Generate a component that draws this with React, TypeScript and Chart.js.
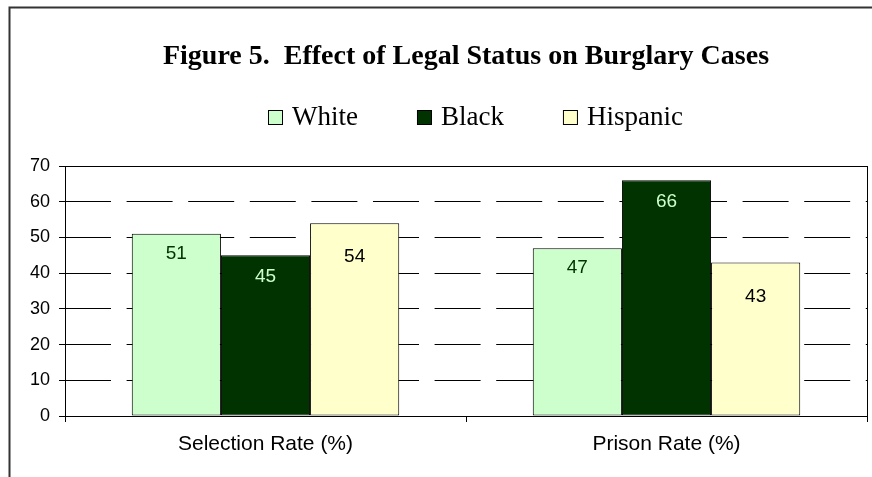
import React, { useEffect, useRef } from 'react';
import { Chart, registerables } from 'chart.js';

Chart.register(...registerables);

const categories = ['Selection Rate (%)', 'Prison Rate (%)'];
const seriesNames = ['White', 'Black', 'Hispanic'];
const whiteValues = [51, 47];
const blackValues = [45, 66];
const hispanicValues = [54, 43];
const seriesColors = ['#CCFFCC', '#003300', '#FFFFCC'];
const labelColors = ['#003300', '#CCFFCC', '#000000'];
const labelOffsets = [20, 21, 34];
const yMin = 0;
const yMax = 70;
const yStep = 10;
const titleText = 'Figure 5.  Effect of Legal Status on Burglary Cases';

const framePlugin = {
  id: 'frame',
  beforeDraw(chart: any) {
    const ctx = chart.ctx;
    ctx.save();
    ctx.fillStyle = '#ffffff';
    ctx.fillRect(0, 0, chart.width, chart.height);
    ctx.strokeStyle = '#333333';
    ctx.lineWidth = 2;
    ctx.beginPath();
    ctx.moveTo(9.5, chart.height + 2);
    ctx.lineTo(9.5, 7.5);
    ctx.lineTo(chart.width + 2, 7.5);
    ctx.stroke();
    ctx.restore();
  },
};

const plotBoxPlugin = {
  id: 'plotBox',
  afterDatasetsDraw(chart: any) {
    const { ctx, chartArea } = chart;
    ctx.save();
    ctx.strokeStyle = '#000000';
    ctx.lineWidth = 1;
    const l = Math.round(chartArea.left) + 0.5;
    const t = Math.round(chartArea.top) + 0.5;
    const r = Math.round(chartArea.right) + 0.5;
    const b = Math.round(chartArea.bottom) + 0.5;
    ctx.strokeRect(l, t, r - l, b - t);
    ctx.restore();
  },
};

const valueLabelPlugin = {
  id: 'valueLabels',
  afterDatasetsDraw(chart: any) {
    const ctx = chart.ctx;
    ctx.save();
    ctx.font = '19px "Liberation Sans", Arial, sans-serif';
    ctx.textAlign = 'center';
    ctx.textBaseline = 'middle';
    chart.data.datasets.forEach((ds: any, i: number) => {
      const meta = chart.getDatasetMeta(i);
      meta.data.forEach((el: any, j: number) => {
        ctx.fillStyle = ds.valueLabelColor;
        ctx.fillText(String(ds.data[j]), el.x, el.y + ds.valueLabelOffset);
      });
    });
    ctx.restore();
  },
};

const legendPlugin = {
  id: 'customLegend',
  afterDraw(chart: any) {
    const { ctx, chartArea } = chart;
    ctx.save();
    ctx.font = '27px "Liberation Serif", "Times New Roman", serif';
    const box = 15;
    const textGap = 9;
    const itemGap = 59;
    const items = chart.data.datasets.map((ds: any) => ({
      label: ds.label,
      fill: ds.backgroundColor,
      w: ctx.measureText(ds.label).width,
    }));
    const total =
      items.reduce((s: number, it: any) => s + box + textGap + it.w, 0) + itemGap * (items.length - 1);
    let x = Math.round((chartArea.left + chartArea.right) / 2 - total / 2 + 9);
    const baseline = 125;
    items.forEach((it: any) => {
      ctx.fillStyle = it.fill;
      ctx.fillRect(x + 0.5, 110.5, box - 1, box - 1);
      ctx.strokeStyle = '#000000';
      ctx.lineWidth = 1;
      ctx.strokeRect(x + 0.5, 110.5, box - 1, box - 1);
      ctx.fillStyle = '#000000';
      ctx.textAlign = 'left';
      ctx.textBaseline = 'alphabetic';
      ctx.fillText(it.label, x + box + textGap, baseline);
      x += box + textGap + it.w + itemGap;
    });
    ctx.restore();
  },
};

export default function App() {
  const canvasRef = useRef<HTMLCanvasElement | null>(null);

  useEffect(() => {
    if (!canvasRef.current) return;
    const valueSets = [whiteValues, blackValues, hispanicValues];
    const chart = new Chart(canvasRef.current, {
      type: 'bar',
      data: {
        labels: categories,
        datasets: seriesNames.map((name, i) => ({
          label: name,
          data: valueSets[i],
          backgroundColor: seriesColors[i],
          borderColor: '#000000',
          borderWidth: 1,
          borderSkipped: false,
          categoryPercentage: 0.667,
          barPercentage: 1.0,
          valueLabelColor: labelColors[i],
          valueLabelOffset: labelOffsets[i],
        })) as any,
      },
      options: {
        responsive: false,
        animation: false,
        devicePixelRatio: 1,
        layout: { padding: { top: 10, left: 0, right: 5, bottom: 0 } },
        plugins: {
          legend: { display: false },
          tooltip: { enabled: false },
          title: {
            display: true,
            text: titleText,
            fullSize: false,
            color: '#000000',
            font: { family: '"Liberation Serif", "Times New Roman", serif', size: 28, weight: 'bold' },
            padding: { top: 30, bottom: 92.4 },
          },
        },
        scales: {
          x: {
            offset: true,
            grid: {
              display: true,
              drawOnChartArea: false,
              drawTicks: true,
              tickLength: 6,
              color: '#000000',
              offset: true,
            },
            border: { display: false },
            ticks: {
              color: '#000000',
              font: { family: '"Liberation Sans", Arial, sans-serif', size: 21 },
              padding: 10,
              maxRotation: 0,
            },
            afterFit(scale: any) {
              scale.height = 61;
            },
          },
          y: {
            min: yMin,
            max: yMax,
            grid: {
              display: true,
              drawOnChartArea: true,
              drawTicks: true,
              tickLength: 6,
              color: '#000000',
              lineWidth: 1,
            },
            border: { display: false, dash: [46, 15.6] },
            ticks: {
              stepSize: yStep,
              color: '#000000',
              font: { family: '"Liberation Sans", Arial, sans-serif', size: 18 },
              padding: 9,
            },
            afterFit(scale: any) {
              scale.width = 65;
            },
          },
        },
      },
      plugins: [framePlugin, plotBoxPlugin, valueLabelPlugin, legendPlugin],
    });
    return () => chart.destroy();
  }, []);

  return (
    <div style={{ position: 'absolute', left: 0, top: 0, width: 872, height: 477 }}>
      <canvas ref={canvasRef} width={872} height={477} style={{ display: 'block' }} />
    </div>
  );
}
